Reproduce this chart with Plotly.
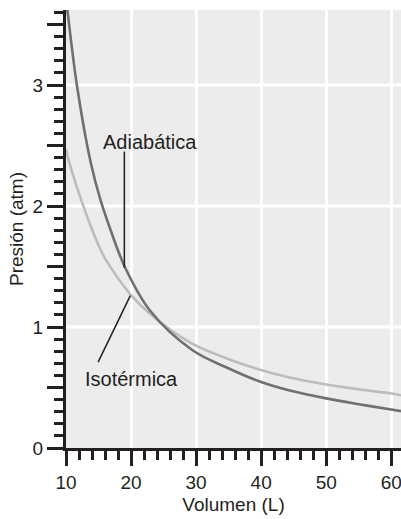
import plotly.graph_objects as go

# Data
adiab_v = [10.0, 10.3, 11.7, 13.8, 15.3, 16.8, 19.1, 23.0, 29.4, 34.7, 40.0, 44.4, 50.0, 55.0, 60.0, 61.5]
adiab_p = [3.72, 3.58, 2.99, 2.36, 2.05, 1.81, 1.49, 1.13, 0.81, 0.665, 0.545, 0.475, 0.41, 0.362, 0.318, 0.305]

iso_v = [10.0, 10.5, 13.2, 15.3, 16.3, 19.9, 23.0, 29.1, 34.7, 40.0, 44.4, 50.0, 55.0, 60.0, 61.5]
iso_p = [2.47, 2.36, 1.92, 1.64, 1.54, 1.27, 1.105, 0.87, 0.74, 0.645, 0.582, 0.525, 0.485, 0.45, 0.436]

y_tick_vals = [0, 0.5, 1, 1.5, 2, 2.5, 3, 3.5]
y_tick_text = ["0", "", "1", "", "2", "", "3", ""]
y_grid_vals = [1, 2, 3]

X_RANGE = [10, 61.5]
Y_RANGE = [0, 3.62]

FONT = "Liberation Sans, Arial, sans-serif"
INK = "#231f20"
FS = 20
TFS = 19

fig = go.Figure()
fig.add_trace(go.Scatter(x=iso_v, y=iso_p, mode="lines",
                         line=dict(color="#bcbcbc", width=2.6, shape="spline", smoothing=1.0),
                         showlegend=False, hoverinfo="skip"))
fig.add_trace(go.Scatter(x=adiab_v, y=adiab_p, mode="lines",
                         line=dict(color="#707070", width=2.6, shape="spline", smoothing=1.0),
                         showlegend=False, hoverinfo="skip"))

shapes = []
for gv in y_grid_vals:
    shapes.append(dict(type="line", xref="paper", yref="y", x0=0, x1=1, y0=gv, y1=gv,
                       line=dict(color="white", width=3), layer="below"))
# leader lines
shapes.append(dict(type="line", xref="x", yref="y", x0=18.97, x1=18.97, y0=2.45, y1=1.49,
                   line=dict(color=INK, width=1.5)))
shapes.append(dict(type="line", xref="x", yref="y", x0=14.94, x1=19.89, y0=0.71, y1=1.26,
                   line=dict(color=INK, width=1.5)))

annotations = [
    dict(x=22.88, y=2.53, xref="x", yref="y", text="Adiabática", showarrow=False,
         font=dict(family=FONT, size=FS, color=INK)),
    dict(x=20.05, y=0.57, xref="x", yref="y", text="Isotérmica", showarrow=False,
         font=dict(family=FONT, size=FS, color=INK)),
]

fig.update_layout(
    width=401, height=519,
    margin=dict(l=66, r=0, t=10, b=71),
    paper_bgcolor="white", plot_bgcolor="#ececec",
    font=dict(family=FONT, size=FS, color=INK),
    shapes=shapes, annotations=annotations,
    xaxis=dict(range=X_RANGE, tick0=10, dtick=10, showgrid=True, gridcolor="white", gridwidth=3,
               zeroline=False, showline=True, linecolor=INK, linewidth=3, automargin=False,
               ticklabeloverflow="allow",
               ticks="outside", ticklen=15, tickwidth=3, tickcolor=INK,
               minor=dict(dtick=2, tick0=10, ticks="outside", ticklen=9, tickwidth=2.5, tickcolor=INK, showgrid=False),
               title=dict(text="Volumen (L)", font=dict(family=FONT, size=FS - 1, color=INK), standoff=6),
               tickfont=dict(family=FONT, size=TFS, color=INK)),
    yaxis=dict(range=Y_RANGE, tickvals=y_tick_vals, ticktext=y_tick_text, showgrid=False,
               zeroline=False, showline=True, linecolor=INK, linewidth=3, automargin=False,
               ticks="outside", ticklen=16, tickwidth=3, tickcolor=INK,
               minor=dict(dtick=0.1, tick0=0, ticks="outside", ticklen=9, tickwidth=2.5, tickcolor=INK, showgrid=False),
               title=dict(text="Presión (atm)", font=dict(family=FONT, size=FS - 1, color=INK), standoff=4),
               tickfont=dict(family=FONT, size=TFS, color=INK)),
)

fig.write_html("out.html", config={"displayModeBar": False},
               post_script="document.body.style.margin='0';document.body.style.padding='0';document.body.style.overflow='hidden';")
